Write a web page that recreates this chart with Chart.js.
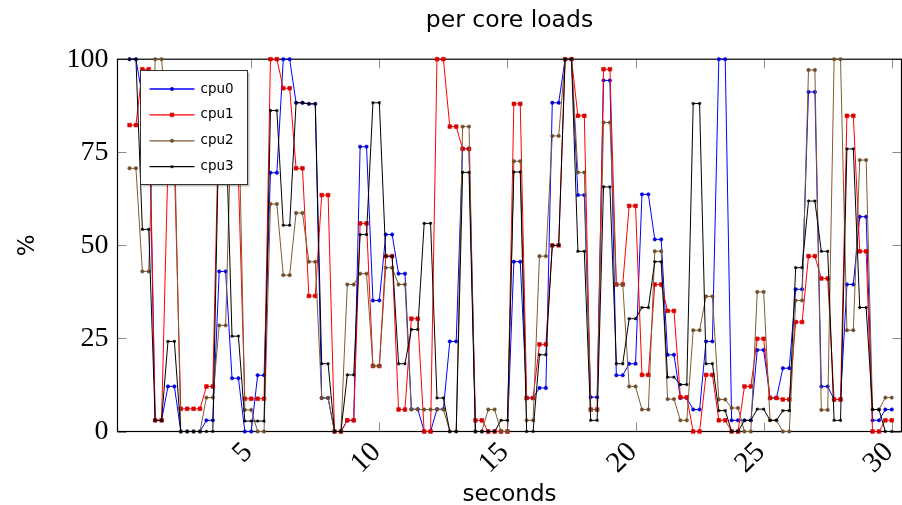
<!DOCTYPE html>
<html>
<head>
<meta charset="utf-8">
<script src="https://cdn.jsdelivr.net/npm/chart.js@4/dist/chart.umd.min.js"></script>
<style>
  html, body { margin: 0; padding: 0; background: #ffffff; }
  #wrap { width: 902px; height: 505px; }
</style>
</head>
<body>
<div id="wrap"><canvas id="chart" width="902" height="505"></canvas></div>
<script>
// start of each sampling window (seconds); every reading covers a quarter second
const sampleStart = [
  0.25, 0.75, 1.25, 1.75, 2.25, 2.75, 3.25, 3.75, 4.25, 4.75,
  5.25, 5.75, 6.25, 6.75, 7.25, 7.75, 8.25, 8.75, 9.25, 9.75,
  10.25, 10.75, 11.25, 11.75, 12.25, 12.75, 13.25, 13.75, 14.25, 14.75,
  15.25, 15.75, 16.25, 16.75, 17.25, 17.75, 18.25, 18.75, 19.25, 19.75,
  20.25, 20.75, 21.25, 21.75, 22.25, 22.75, 23.25, 23.75, 24.25, 24.75,
  25.25, 25.75, 26.25, 26.75, 27.25, 27.75, 28.25, 28.75, 29.25, 29.75
];
const sampleSpan = 0.25;

// load per core, percent
const cpu0 = [
  100, 90, 3, 12.1, 0, 0, 3, 43, 14.3, 0,
  15.1, 69.5, 100, 88.3, 88, 9, 0, 3, 76.5, 35.2,
  52.9, 42.4, 6, 0, 6, 24.2, 76, 0, 0, 0,
  45.6, 9, 11.7, 88.3, 100, 63.5, 9.2, 94.3, 15.1, 18.2,
  63.7, 51.6, 20.6, 9, 5.9, 24.2, 100, 3, 3, 21.9,
  9, 17, 38.2, 91.2, 12.1, 8.6, 39.5, 57.7, 3, 5.9
];
const cpu1 = [
  82.3, 97.3, 3, 72, 6.1, 6.1, 12.1, 90, 68, 8.8,
  8.8, 100, 92.2, 70.7, 36.4, 63.5, 0, 3, 55.9, 17.6,
  47.1, 5.9, 30.3, 0, 100, 81.9, 75.9, 3, 0, 0,
  88, 9, 23.4, 50, 100, 84.8, 5.9, 97.3, 39.5, 60.6,
  15.2, 39.5, 32.4, 9.2, 0, 15.2, 3, 0, 12.1, 24.9,
  9, 8.6, 29.4, 47.1, 41.1, 8.6, 84.8, 48.4, 0, 3
];
const cpu2 = [
  70.7, 43, 100, 80, 0, 0, 9.1, 28.5, 90, 5.8,
  0, 61.1, 42, 58.7, 45.6, 9, 0, 39.5, 42.4, 17.6,
  44, 39.5, 5.9, 5.9, 5.9, 0, 81.9, 0, 5.9, 0,
  72.6, 3, 47.1, 79.4, 100, 69.6, 5.9, 83, 39.5, 12.1,
  5.9, 48.4, 8.7, 3, 27.2, 36.3, 8.6, 6.3, 0, 37.5,
  3, 0, 35.2, 97.1, 5.8, 100, 27.2, 72.9, 5.9, 9.1
];
const cpu3 = [
  100, 54.3, 3, 24.2, 0, 0, 0, 85, 25.6, 2.8,
  2.8, 86.2, 55.4, 88.3, 88, 18.2, 0, 15.2, 52.9, 88.3,
  47.1, 18.2, 27.4, 55.9, 9, 0, 69.6, 0, 0, 3,
  69.7, 0, 20.6, 50, 100, 48.4, 3, 65.7, 18.2, 30.3,
  33.3, 45.6, 14.6, 12.6, 88.1, 18.2, 5.6, 0, 3, 6,
  3, 5.6, 44, 61.9, 48.4, 3, 75.9, 33.3, 5.9, 0
];

const seriesNames = ['cpu0', 'cpu1', 'cpu2', 'cpu3'];
const seriesValues = [cpu0, cpu1, cpu2, cpu3];
const xTickValues = [5, 10, 15, 20, 25, 30];
const yTickValues = [0, 25, 50, 75, 100];

const seriesStyle = [
  { line: 'rgb(0,0,255)',     fill: 'rgb(0,0,215)',    pointStyle: 'circle', radius: 1.7 },
  { line: 'rgb(255,0,0)',     fill: 'rgb(215,0,0)',    pointStyle: 'rect',   radius: 2.6 },
  { line: 'rgb(128,90,52)',   fill: 'rgb(112,78,44)',  pointStyle: 'circle', radius: 1.7 },
  { line: 'rgb(0,0,0)',       fill: 'rgb(0,0,0)',      pointStyle: 'star',   radius: 1.6 }
];

// each reading becomes a flat step over its window
function windowPoints(values) {
  const pts = [];
  values.forEach((v, i) => {
    pts.push({ x: sampleStart[i], y: v });
    pts.push({ x: sampleStart[i] + sampleSpan, y: v });
  });
  return pts;
}

const datasets = seriesNames.map((name, k) => ({
  label: name,
  data: windowPoints(seriesValues[k]),
  borderColor: seriesStyle[k].line,
  backgroundColor: seriesStyle[k].fill,
  borderWidth: 1,
  pointStyle: seriesStyle[k].pointStyle,
  pointRadius: seriesStyle[k].radius,
  pointBorderWidth: k === 3 ? 1 : 0.6,
  pointBorderColor: seriesStyle[k].fill,
  pointBackgroundColor: seriesStyle[k].fill,
  tension: 0,
  fill: false,
  clip: false,
  order: seriesNames.length - 1 - k
}));

const SANS = '"DejaVu Sans", sans-serif';
const SERIF = '"Liberation Serif", "DejaVu Serif", serif';

// box frame and the short inward ticks on all four sides
const framePlugin = {
  id: 'frame',
  beforeDatasetsDraw(chart) {
    const { ctx, chartArea: a, scales } = chart;
    ctx.save();
    ctx.strokeStyle = '#8a8a8a';
    ctx.lineWidth = 1;
    const len = 9;
    ctx.beginPath();
    xTickValues.forEach(v => {
      const x = Math.round(scales.x.getPixelForValue(v)) + 0.5;
      ctx.moveTo(x, a.bottom); ctx.lineTo(x, a.bottom - len);
      ctx.moveTo(x, a.top); ctx.lineTo(x, a.top + len);
    });
    yTickValues.forEach(v => {
      const y = Math.round(scales.y.getPixelForValue(v)) + 0.5;
      ctx.moveTo(a.left, y); ctx.lineTo(a.left + len, y);
      ctx.moveTo(a.right, y); ctx.lineTo(a.right - len, y);
    });
    ctx.stroke();
    ctx.strokeStyle = '#000000';
    ctx.lineWidth = 1.2;
    ctx.strokeRect(a.left, a.top, a.right - a.left, a.bottom - a.top);
    ctx.restore();
  }
};

// boxed legend in the upper left of the plot
const boxLegendPlugin = {
  id: 'boxLegend',
  afterDraw(chart) {
    const { ctx } = chart;
    const bx = 140.5, by = 70.5, bw = 107, bh = 114;
    ctx.save();
    ctx.fillStyle = 'rgba(0,0,0,0.25)';
    ctx.fillRect(bx + 2, by + 2, bw, bh);
    ctx.fillStyle = '#ffffff';
    ctx.fillRect(bx, by, bw, bh);
    ctx.strokeStyle = '#333333';
    ctx.lineWidth = 1;
    ctx.strokeRect(bx, by, bw, bh);
    chart.data.datasets.forEach((ds, k) => {
      const y = by + 18.5 + k * 25.9;
      ctx.strokeStyle = ds.borderColor;
      ctx.lineWidth = 1.3;
      ctx.beginPath();
      ctx.moveTo(bx + 9, y);
      ctx.lineTo(bx + 54, y);
      ctx.stroke();
      ctx.fillStyle = ds.pointBackgroundColor;
      ctx.strokeStyle = ds.pointBorderColor;
      ctx.lineWidth = ds.pointBorderWidth;
      Chart.helpers.drawPoint(ctx, {
        pointStyle: ds.pointStyle, radius: ds.pointRadius, rotation: 0,
        borderWidth: ds.pointBorderWidth
      }, bx + 31.5, y);
      ctx.fillStyle = '#000000';
      ctx.font = '13.5px ' + SANS;
      ctx.textAlign = 'left';
      ctx.textBaseline = 'middle';
      ctx.fillText(ds.label, bx + 60, y);
    });
    ctx.restore();
  }
};

new Chart(document.getElementById('chart'), {
  type: 'line',
  data: { datasets },
  options: {
    responsive: false,
    animation: false,
    devicePixelRatio: 1,
    layout: { autoPadding: false, padding: { left: 0, right: 0.5, top: 0, bottom: 0 } },
    plugins: {
      legend: { display: false },
      tooltip: { enabled: false },
      title: {
        display: true,
        text: 'per core loads',
        fullSize: false,
        color: '#000000',
        font: { family: SANS, size: 23.5, weight: 'normal', lineHeight: 1.2 },
        padding: { top: 7, bottom: 24 }
      }
    },
    scales: {
      x: {
        type: 'linear',
        min: -0.22,
        max: 30.38,
        afterFit: s => { s.height = 73.5; s.paddingLeft = 0; s.paddingRight = 0; },
        afterBuildTicks: s => { s.ticks = xTickValues.map(v => ({ value: v })); },
        grid: { display: false, drawTicks: false },
        border: { display: false },
        ticks: {
          color: '#000000',
          font: { family: SERIF, size: 29 },
          minRotation: 45,
          maxRotation: 45,
          padding: 4,
          labelOffset: -3,
          autoSkip: false
        },
        title: {
          display: true,
          text: 'seconds',
          color: '#000000',
          font: { family: SANS, size: 23, lineHeight: 0.85 },
          padding: { top: 0, bottom: 0 }
        }
      },
      y: {
        type: 'linear',
        min: 0,
        max: 100,
        afterFit: s => { s.width = 117.5; s.paddingTop = 0; s.paddingBottom = 0; },
        afterBuildTicks: s => { s.ticks = yTickValues.map(v => ({ value: v })); },
        grid: { display: false, drawTicks: false },
        border: { display: false },
        ticks: {
          color: '#000000',
          font: { family: SERIF, size: 28 },
          padding: 9
        },
        title: {
          display: true,
          text: '%',
          color: '#000000',
          font: { family: SANS, size: 23 },
          padding: { top: 14, bottom: 0 }
        }
      }
    }
  },
  plugins: [framePlugin, boxLegendPlugin]
});
</script>
</body>
</html>
